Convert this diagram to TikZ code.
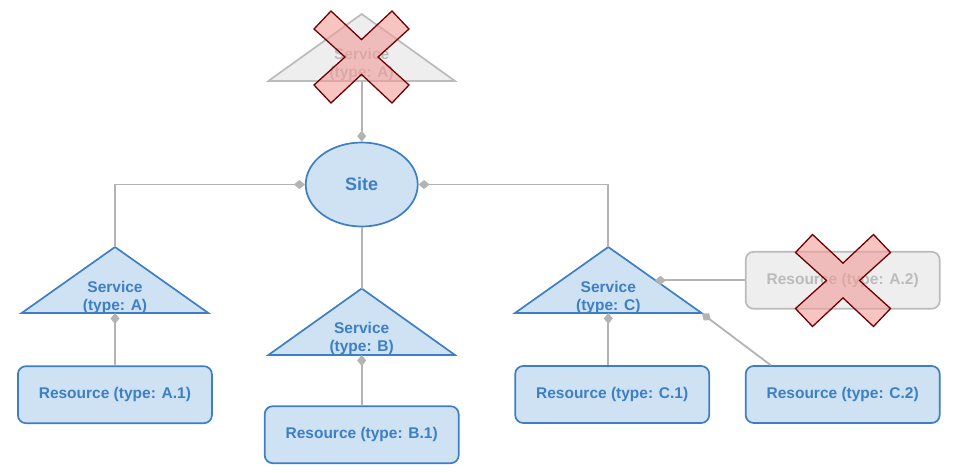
\documentclass[tikz,border=0pt]{standalone}
\usepackage{fontspec}
\setmainfont{Liberation Sans}
\usetikzlibrary{positioning, arrows.meta, shapes.geometric}

\definecolor{svcblue}{HTML}{3D7FC4}
\definecolor{svcfill}{HTML}{CFE2F3}
\definecolor{offgray}{HTML}{BBBBBB}
\definecolor{offfill}{HTML}{EEEEEE}
\definecolor{linkgray}{HTML}{B3B3B3}
\definecolor{crossfill}{HTML}{F19C99}
\definecolor{crossline}{HTML}{6F0000}

\tikzset{
  svctri/.style={draw=svcblue, fill=svcfill, line width=1.7pt, line join=miter},
  offtri/.style={draw=offgray, fill=offfill, line width=1.7pt, line join=miter},
  svctext/.style={text=svcblue, font=\fontsize{15.5}{18}\selectfont\bfseries, align=center, inner sep=0pt},
  offtext/.style={svctext, text=offgray},
  res/.style={draw=svcblue, fill=svcfill, line width=1.7pt, rounded corners=8pt, minimum width=194pt, minimum height=57pt, text=svcblue, font=\fontsize{15.5}{18}\selectfont\bfseries},
  resoff/.style={res, draw=offgray, fill=offfill, text=offgray},
  link/.style={draw=linkgray, line width=1.8pt, -{Diamond[length=11pt,width=9pt]}},
  xmark/.pic={
    \draw[crossline, fill=crossfill, fill opacity=0.6, line width=1.3pt, line join=miter]
      (-47.5,-28) -- (-30.5,-46) -- (0,-17.4) -- (30.5,-46) -- (47.5,-28) -- (16.5,0)
      -- (47.5,28) -- (30.5,46) -- (0,17.4) -- (-30.5,46) -- (-47.5,28) -- (-16.5,0) -- cycle;
  }
}

\begin{document}
\begin{tikzpicture}[x=1pt, y=-1pt]
    \useasboundingbox (0,0) rectangle (956,472);

    % site
    \node[ellipse, draw=svcblue, fill=svcfill, line width=1.7pt, minimum width=112pt, minimum height=84pt,
          text=svcblue, font=\fontsize{18}{21}\selectfont\bfseries] (site) at (361.7,184.5) {Site};

    % services
    \coordinate (svcTop) at (361.7,14);
    \coordinate (svcTopBase) at (361.7,81);
    \draw[offtri] (svcTop) -- (455,81) -- (268.4,81) -- cycle;
    \node[offtext] (svcTopText) at (361.7,64.5) {Service\\(type: A)};

    \coordinate (svcA) at (115,247);
    \coordinate (svcABase) at (115,313);
    \draw[svctri] (svcA) -- (208.3,313) -- (21.7,313) -- cycle;
    \node[svctext] (svcAText) at (115,297) {Service\\(type: A)};

    \coordinate (svcB) at (361.7,288.5);
    \coordinate (svcBBase) at (361.7,355);
    \draw[svctri] (svcB) -- (455,355) -- (268.4,355) -- cycle;
    \node[svctext] (svcBText) at (361.7,338.5) {Service\\(type: B)};

    \coordinate (svcC) at (608.3,247);
    \coordinate (svcCBase) at (608.3,313);
    \coordinate (svcCEdge) at (655,280.3);
    \coordinate (svcCCorner) at (702,313.5);
    \draw[svctri] (svcC) -- (701.6,313) -- (515,313) -- cycle;
    \node[svctext] (svcCText) at (608.3,297) {Service\\(type: C)};

    % resources
    \node[res] (resA1) at (114.9,394.7) {Resource (type: A.1)};
    \node[res] (resB1) at (361.7,434.7) {Resource (type: B.1)};
    \node[res] (resC1) at (612.2,394.5) {Resource (type: C.1)};
    \node[res] (resC2) at (842.7,394.5) {Resource (type: C.2)};
    \node[resoff] (resA2) at (842.7,280.3) {Resource (type: A.2)};

    % links
    \draw[link] (svcTopBase) -- (site.north);
    \draw[link] (svcA) |- (site.west);
    \draw[link] (svcC) |- (site.east);
    \draw[draw=linkgray, line width=1.8pt] (site.south) -- (svcB);
    \draw[link] (resA1.north) -- (svcABase);
    \draw[link] (resB1.north) -- (svcBBase);
    \draw[link] (resC1.north -| svcC) -- (svcCBase);
    \draw[link] ([xshift=-72pt]resC2.north) -- (svcCCorner);
    \draw[link] (resA2.west) -- (svcCEdge);

    % removed
    \pic (xTop) at (361.5,57) {xmark};
    \pic (xA2) at (843,280.5) {xmark};
\end{tikzpicture}
\end{document}
